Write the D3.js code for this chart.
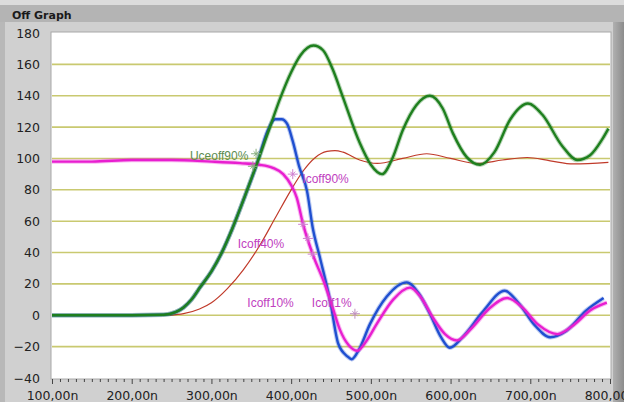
<!DOCTYPE html>
<html><head><meta charset="utf-8">
<script src="https://cdn.jsdelivr.net/npm/d3@7"></script>
<style>html,body{margin:0;padding:0;background:#d2d2d2;}svg{display:block;font-family:"DejaVu Sans",sans-serif;}</style>
</head><body>
<svg id="c" width="624" height="402"></svg>
<script>
// ---- data (time in ns, values) ----
const xTicks = [100,200,300,400,500,600,700,800];
const xTickLabels = ["100,00n","200,00n","300,00n","400,00n","500,00n","600,00n","700,00n","800,00n"];
const yTicks = [-40,-20,0,20,40,60,80,100,120,140,160,180];

const uceT = [100,150,200,240,255,265,275,286,300,313,326,342,358,372,386,400,412,428,440,452,465,486,500,514,527,540,557,574,590,603,620,637,655,675,697,715,740,759,775,790,798];
const uceV = [0,0,0,0.3,2,5,10,18,28,40,55,76,98,118,138,155,166,172,169,157,139,110,96,90,100,118,134,140,132,116,101,96,104,125,135,128,108,99,102,112,119];

const blueT = [100,150,200,240,255,265,275,286,300,313,326,342,358,370,380,388,395,402,410,420,427,436,449,459,470,476,485,499,520,545,560,574,588,599,615,640,668,685,705,725,745,770,792];
const blueV = [0,0,0,0.3,2,5,10,18,28,40,55,76,98,117,125,125,122,111,95,79,56,37,9,-18,-26,-28,-22,-5.5,12,21,14,1,-14,-20.7,-14,2,15.6,8,-6,-14,-10,3,11];

const icT = [100,150,200,250,300,336,360,377,390,400,407,415,427,442,452,461,472,483,495,508,528,549,562,578,593,608,625,648,671,690,710,734,755,775,796];
const icV = [98,98,99,99,98,97,96,94,90,83,75,58,39,20,5,-9,-19,-22.6,-16,-5,10,17.6,12,-1.6,-12,-16,-9,4,11,5,-6,-12,-6,3,8];

const redT = [248,265,285,300,320,340,360,380,400,415,430,445,455,465,486,508,540,570,600,633,665,696,725,754,798];
const redV = [0,1,4,8,17,29,44,62,80,92,100.5,104.5,105,104,99,96.8,100,103,100,96.8,99,100.6,98.5,96.5,97.5];

const labelText = ["Uceoff90%","Icoff90%","Icoff40%","Icoff10%","Icoff1%"];
const labelT = [273,414,333,345,426];
const labelV = [102,87,45.7,8,8];
const labelColor = ["#5c8c50","#c040c0","#c040c0","#c040c0","#c040c0"];

const markT = [352,356,402,415,421,427,480];
const markV = [95,103,90,58,49,39,1];
const markColor = ["#8ab080","#8ab080","#d080d0","#d080d0","#d080d0","#d080d0","#c090c0"];

// ---- drawing ----
const svg = d3.select("#c");
// frame
svg.append("rect").attr("x",0).attr("y",0).attr("width",624).attr("height",402).attr("fill","#d0d0d0");
svg.append("rect").attr("x",0).attr("y",0).attr("width",624).attr("height",5).attr("fill","#dcdcdc");
svg.append("rect").attr("x",0).attr("y",5).attr("width",624).attr("height",17).attr("fill","#b4b4b4");
svg.append("rect").attr("x",0).attr("y",22).attr("width",5).attr("height",380).attr("fill","#b8b8b8");
const rg = svg.append("defs").append("linearGradient").attr("id","rs").attr("x1",0).attr("x2",1);
rg.append("stop").attr("offset",0).attr("stop-color","#b0b0b0");
rg.append("stop").attr("offset",1).attr("stop-color","#8c8c8c");
svg.append("rect").attr("x",613).attr("y",22).attr("width",11).attr("height",380).attr("fill","url(#rs)");
svg.append("text").attr("x",12).attr("y",19).attr("font-size",11).attr("font-weight","bold").attr("fill","#1a1a1a").text("Off Graph");

const L=52, R=610, T=33, B=378;
const x = d3.scaleLinear().domain([100,800]).range([L,R]);
const y = d3.scaleLinear().domain([-40,180]).range([B,T]);

svg.append("rect").attr("x",L-1).attr("y",T-1).attr("width",R-L+2).attr("height",B-T+2).attr("fill","#ffffff").attr("stroke","#a8a8a8").attr("stroke-width",1);

// grid
svg.append("g").selectAll("line").data(yTicks.filter(d=>d>-40 && d<180)).join("line")
  .attr("x1",L).attr("x2",R).attr("y1",d=>y(d)).attr("y2",d=>y(d))
  .attr("stroke","#c9c970").attr("stroke-width",1.6);

// y axis labels
const ya = d3.axisLeft(y).tickValues(yTicks).tickSize(0).tickPadding(12);
const yg = svg.append("g").attr("transform",`translate(${L},0)`).call(ya);
yg.select(".domain").remove();
yg.selectAll("text").attr("font-size",12.5).attr("fill","#222").attr("font-family","DejaVu Sans, sans-serif");

// x axis
const xa = d3.axisBottom(x).tickValues(d3.range(100,801,10)).tickSize(4).tickFormat(d=>{const i=xTicks.indexOf(d);return i>=0?xTickLabels[i]:"";});
const xg = svg.append("g").attr("transform",`translate(0,${B+1})`).call(xa);
xg.select(".domain").remove();
xg.selectAll(".tick line").attr("stroke","#444").attr("y2",d=>xTicks.includes(d)?5:3);
xg.selectAll("text").attr("font-size",12.5).attr("fill","#222").attr("font-family","DejaVu Sans, sans-serif").attr("dy","1.1em");

svg.append("defs").append("clipPath").attr("id","pc").append("rect").attr("x",L).attr("y",T).attr("width",R-L).attr("height",B-T);
const plot = svg.append("g").attr("clip-path","url(#pc)");
const line = d3.line().x(d=>x(d[0])).y(d=>y(d[1])).curve(d3.curveMonotoneX);
const zip = (a,b)=>a.map((t,i)=>[t,b[i]]);

plot.append("path").datum(zip(redT,redV)).attr("d",line).attr("fill","none").attr("stroke","#c03a2a").attr("stroke-width",1.2);
function trace(t,v,col){
  plot.append("path").datum(zip(t,v)).attr("d",line).attr("fill","none").attr("stroke",col).attr("stroke-width",4.5).attr("stroke-opacity",0.3);
  plot.append("path").datum(zip(t,v)).attr("d",line).attr("fill","none").attr("stroke",col).attr("stroke-width",2.4);
}
trace(blueT,blueV,"#1f4fd0");
trace(icT,icV,"#e81ed0");
trace(uceT,uceV,"#1e7f1e");

// markers
const mk = plot.append("g").selectAll("g").data(markT.map((t,i)=>({t,v:markV[i],c:markColor[i]}))).join("g")
  .attr("transform",d=>`translate(${x(d.t)},${y(d.v)})`);
mk.append("path").attr("d","M-5,0L5,0M0,-5L0,5M-2.5,-2.5L2.5,2.5M-2.5,2.5L2.5,-2.5").attr("stroke",d=>d.c).attr("stroke-width",1);

// labels
svg.append("g").selectAll("text").data(labelText.map((s,i)=>({s,t:labelT[i],v:labelV[i],c:labelColor[i]}))).join("text")
  .attr("x",d=>x(d.t)).attr("y",d=>y(d.v)).attr("dy","0.35em").attr("font-size",12)
  .attr("font-family","Liberation Sans, Arial, sans-serif").attr("fill",d=>d.c).text(d=>d.s);
</script>
</body></html>
